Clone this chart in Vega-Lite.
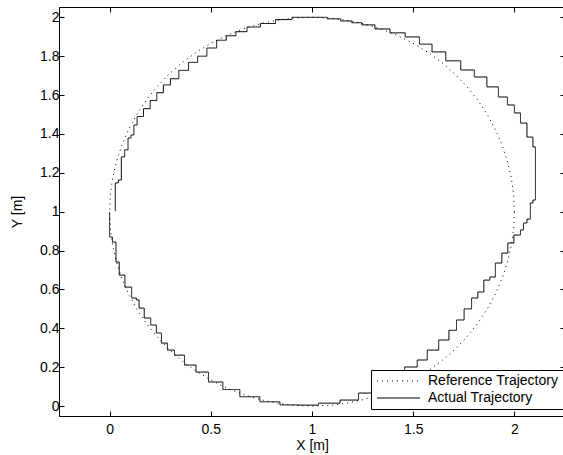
{
  "$schema": "https://vega.github.io/schema/vega-lite/v6.json",
  "width": 506,
  "height": 409,
  "autosize": "none",
  "padding": {"left": 59, "top": 7, "right": 0, "bottom": 39},
  "background": "white",
  "config": {
    "view": {"stroke": "black", "strokeWidth": 1},
    "font": "Liberation Sans",
    "axis": {
      "domainColor": "black", "domainWidth": 1, "tickColor": "black", "tickWidth": 1,
      "labelColor": "black", "titleColor": "black",
      "labelFont": "Liberation Sans", "titleFont": "Liberation Sans",
      "labelFontSize": 14, "titleFontSize": 14, "titleFontWeight": "normal",
      "tickSize": -5, "grid": false
    },
    "legend": {
      "orient": "none", "legendX": 312, "legendY": 363,
      "strokeColor": "black", "fillColor": "white", "padding": 4,
      "symbolType": "M-1,0H7.6", "symbolSize": 100, "symbolStrokeColor": "black",
      "symbolStrokeWidth": 1, "labelFont": "Liberation Sans", "labelFontSize": 14,
      "labelColor": "black", "labelOffset": 39, "rowPadding": 3
    }
  },
  "data": {"values": [
    {"s":"Reference Trajectory","i":0,"x":2,"y":1},
    {"s":"Reference Trajectory","i":1,"x":1.9962,"y":1.0872},
    {"s":"Reference Trajectory","i":2,"x":1.9848,"y":1.1736},
    {"s":"Reference Trajectory","i":3,"x":1.9659,"y":1.2588},
    {"s":"Reference Trajectory","i":4,"x":1.9397,"y":1.342},
    {"s":"Reference Trajectory","i":5,"x":1.9063,"y":1.4226},
    {"s":"Reference Trajectory","i":6,"x":1.866,"y":1.5},
    {"s":"Reference Trajectory","i":7,"x":1.8192,"y":1.5736},
    {"s":"Reference Trajectory","i":8,"x":1.766,"y":1.6428},
    {"s":"Reference Trajectory","i":9,"x":1.7071,"y":1.7071},
    {"s":"Reference Trajectory","i":10,"x":1.6428,"y":1.766},
    {"s":"Reference Trajectory","i":11,"x":1.5736,"y":1.8192},
    {"s":"Reference Trajectory","i":12,"x":1.5,"y":1.866},
    {"s":"Reference Trajectory","i":13,"x":1.4226,"y":1.9063},
    {"s":"Reference Trajectory","i":14,"x":1.342,"y":1.9397},
    {"s":"Reference Trajectory","i":15,"x":1.2588,"y":1.9659},
    {"s":"Reference Trajectory","i":16,"x":1.1736,"y":1.9848},
    {"s":"Reference Trajectory","i":17,"x":1.0872,"y":1.9962},
    {"s":"Reference Trajectory","i":18,"x":1,"y":2},
    {"s":"Reference Trajectory","i":19,"x":0.9128,"y":1.9962},
    {"s":"Reference Trajectory","i":20,"x":0.8264,"y":1.9848},
    {"s":"Reference Trajectory","i":21,"x":0.7412,"y":1.9659},
    {"s":"Reference Trajectory","i":22,"x":0.658,"y":1.9397},
    {"s":"Reference Trajectory","i":23,"x":0.5774,"y":1.9063},
    {"s":"Reference Trajectory","i":24,"x":0.5,"y":1.866},
    {"s":"Reference Trajectory","i":25,"x":0.4264,"y":1.8192},
    {"s":"Reference Trajectory","i":26,"x":0.3572,"y":1.766},
    {"s":"Reference Trajectory","i":27,"x":0.2929,"y":1.7071},
    {"s":"Reference Trajectory","i":28,"x":0.234,"y":1.6428},
    {"s":"Reference Trajectory","i":29,"x":0.1808,"y":1.5736},
    {"s":"Reference Trajectory","i":30,"x":0.134,"y":1.5},
    {"s":"Reference Trajectory","i":31,"x":0.0937,"y":1.4226},
    {"s":"Reference Trajectory","i":32,"x":0.0603,"y":1.342},
    {"s":"Reference Trajectory","i":33,"x":0.0341,"y":1.2588},
    {"s":"Reference Trajectory","i":34,"x":0.0152,"y":1.1736},
    {"s":"Reference Trajectory","i":35,"x":0.0038,"y":1.0872},
    {"s":"Reference Trajectory","i":36,"x":0,"y":1},
    {"s":"Reference Trajectory","i":37,"x":0.0038,"y":0.9128},
    {"s":"Reference Trajectory","i":38,"x":0.0152,"y":0.8264},
    {"s":"Reference Trajectory","i":39,"x":0.0341,"y":0.7412},
    {"s":"Reference Trajectory","i":40,"x":0.0603,"y":0.658},
    {"s":"Reference Trajectory","i":41,"x":0.0937,"y":0.5774},
    {"s":"Reference Trajectory","i":42,"x":0.134,"y":0.5},
    {"s":"Reference Trajectory","i":43,"x":0.1808,"y":0.4264},
    {"s":"Reference Trajectory","i":44,"x":0.234,"y":0.3572},
    {"s":"Reference Trajectory","i":45,"x":0.2929,"y":0.2929},
    {"s":"Reference Trajectory","i":46,"x":0.3572,"y":0.234},
    {"s":"Reference Trajectory","i":47,"x":0.4264,"y":0.1808},
    {"s":"Reference Trajectory","i":48,"x":0.5,"y":0.134},
    {"s":"Reference Trajectory","i":49,"x":0.5774,"y":0.0937},
    {"s":"Reference Trajectory","i":50,"x":0.658,"y":0.0603},
    {"s":"Reference Trajectory","i":51,"x":0.7412,"y":0.0341},
    {"s":"Reference Trajectory","i":52,"x":0.8264,"y":0.0152},
    {"s":"Reference Trajectory","i":53,"x":0.9128,"y":0.0038},
    {"s":"Reference Trajectory","i":54,"x":1,"y":0},
    {"s":"Reference Trajectory","i":55,"x":1.0872,"y":0.0038},
    {"s":"Reference Trajectory","i":56,"x":1.1736,"y":0.0152},
    {"s":"Reference Trajectory","i":57,"x":1.2588,"y":0.0341},
    {"s":"Reference Trajectory","i":58,"x":1.342,"y":0.0603},
    {"s":"Reference Trajectory","i":59,"x":1.4226,"y":0.0937},
    {"s":"Reference Trajectory","i":60,"x":1.5,"y":0.134},
    {"s":"Reference Trajectory","i":61,"x":1.5736,"y":0.1808},
    {"s":"Reference Trajectory","i":62,"x":1.6428,"y":0.234},
    {"s":"Reference Trajectory","i":63,"x":1.7071,"y":0.2929},
    {"s":"Reference Trajectory","i":64,"x":1.766,"y":0.3572},
    {"s":"Reference Trajectory","i":65,"x":1.8192,"y":0.4264},
    {"s":"Reference Trajectory","i":66,"x":1.866,"y":0.5},
    {"s":"Reference Trajectory","i":67,"x":1.9063,"y":0.5774},
    {"s":"Reference Trajectory","i":68,"x":1.9397,"y":0.658},
    {"s":"Reference Trajectory","i":69,"x":1.9659,"y":0.7412},
    {"s":"Reference Trajectory","i":70,"x":1.9848,"y":0.8264},
    {"s":"Reference Trajectory","i":71,"x":1.9962,"y":0.9128},
    {"s":"Reference Trajectory","i":72,"x":2,"y":1},
    {"s":"Actual Trajectory","i":0,"x":0.028,"y":1.004},
    {"s":"Actual Trajectory","i":1,"x":0.028,"y":1.148},
    {"s":"Actual Trajectory","i":2,"x":0.058,"y":1.163},
    {"s":"Actual Trajectory","i":3,"x":0.058,"y":1.282},
    {"s":"Actual Trajectory","i":4,"x":0.091,"y":1.318},
    {"s":"Actual Trajectory","i":5,"x":0.091,"y":1.379},
    {"s":"Actual Trajectory","i":6,"x":0.12,"y":1.395},
    {"s":"Actual Trajectory","i":7,"x":0.12,"y":1.446},
    {"s":"Actual Trajectory","i":8,"x":0.152,"y":1.49},
    {"s":"Actual Trajectory","i":9,"x":0.183,"y":1.53},
    {"s":"Actual Trajectory","i":10,"x":0.218,"y":1.572},
    {"s":"Actual Trajectory","i":11,"x":0.248,"y":1.612},
    {"s":"Actual Trajectory","i":12,"x":0.283,"y":1.652},
    {"s":"Actual Trajectory","i":13,"x":0.318,"y":1.684},
    {"s":"Actual Trajectory","i":14,"x":0.366,"y":1.727},
    {"s":"Actual Trajectory","i":15,"x":0.414,"y":1.768},
    {"s":"Actual Trajectory","i":16,"x":0.456,"y":1.8},
    {"s":"Actual Trajectory","i":17,"x":0.505,"y":1.842},
    {"s":"Actual Trajectory","i":18,"x":0.553,"y":1.882},
    {"s":"Actual Trajectory","i":19,"x":0.6,"y":1.905},
    {"s":"Actual Trajectory","i":20,"x":0.648,"y":1.926},
    {"s":"Actual Trajectory","i":21,"x":0.71,"y":1.95},
    {"s":"Actual Trajectory","i":22,"x":0.78,"y":1.968},
    {"s":"Actual Trajectory","i":23,"x":0.86,"y":1.988},
    {"s":"Actual Trajectory","i":24,"x":0.941,"y":2.0},
    {"s":"Actual Trajectory","i":25,"x":1.04,"y":2.0},
    {"s":"Actual Trajectory","i":26,"x":1.11,"y":1.992},
    {"s":"Actual Trajectory","i":27,"x":1.173,"y":1.981},
    {"s":"Actual Trajectory","i":28,"x":1.22,"y":1.972},
    {"s":"Actual Trajectory","i":29,"x":1.272,"y":1.961},
    {"s":"Actual Trajectory","i":30,"x":1.35,"y":1.94},
    {"s":"Actual Trajectory","i":31,"x":1.421,"y":1.92},
    {"s":"Actual Trajectory","i":32,"x":1.5,"y":1.899},
    {"s":"Actual Trajectory","i":33,"x":1.562,"y":1.862},
    {"s":"Actual Trajectory","i":34,"x":1.624,"y":1.822},
    {"s":"Actual Trajectory","i":35,"x":1.698,"y":1.776},
    {"s":"Actual Trajectory","i":36,"x":1.772,"y":1.729},
    {"s":"Actual Trajectory","i":37,"x":1.832,"y":1.693},
    {"s":"Actual Trajectory","i":38,"x":1.896,"y":1.642},
    {"s":"Actual Trajectory","i":39,"x":1.946,"y":1.59},
    {"s":"Actual Trajectory","i":40,"x":1.985,"y":1.549},
    {"s":"Actual Trajectory","i":41,"x":2.015,"y":1.508},
    {"s":"Actual Trajectory","i":42,"x":2.045,"y":1.456},
    {"s":"Actual Trajectory","i":43,"x":2.079,"y":1.384},
    {"s":"Actual Trajectory","i":44,"x":2.104,"y":1.333},
    {"s":"Actual Trajectory","i":45,"x":2.104,"y":1.06},
    {"s":"Actual Trajectory","i":46,"x":2.079,"y":1.045},
    {"s":"Actual Trajectory","i":47,"x":2.079,"y":0.962},
    {"s":"Actual Trajectory","i":48,"x":2.045,"y":0.942},
    {"s":"Actual Trajectory","i":49,"x":2.045,"y":0.906},
    {"s":"Actual Trajectory","i":50,"x":2.015,"y":0.88},
    {"s":"Actual Trajectory","i":51,"x":1.98,"y":0.839},
    {"s":"Actual Trajectory","i":52,"x":1.955,"y":0.787},
    {"s":"Actual Trajectory","i":53,"x":1.921,"y":0.736},
    {"s":"Actual Trajectory","i":54,"x":1.891,"y":0.664},
    {"s":"Actual Trajectory","i":55,"x":1.866,"y":0.648},
    {"s":"Actual Trajectory","i":56,"x":1.832,"y":0.587},
    {"s":"Actual Trajectory","i":57,"x":1.807,"y":0.556},
    {"s":"Actual Trajectory","i":58,"x":1.77,"y":0.5},
    {"s":"Actual Trajectory","i":59,"x":1.733,"y":0.443},
    {"s":"Actual Trajectory","i":60,"x":1.695,"y":0.39},
    {"s":"Actual Trajectory","i":61,"x":1.658,"y":0.34},
    {"s":"Actual Trajectory","i":62,"x":1.594,"y":0.288},
    {"s":"Actual Trajectory","i":63,"x":1.545,"y":0.237},
    {"s":"Actual Trajectory","i":64,"x":1.495,"y":0.201},
    {"s":"Actual Trajectory","i":65,"x":1.42,"y":0.15},
    {"s":"Actual Trajectory","i":66,"x":1.337,"y":0.103},
    {"s":"Actual Trajectory","i":67,"x":1.272,"y":0.067},
    {"s":"Actual Trajectory","i":68,"x":1.188,"y":0.031},
    {"s":"Actual Trajectory","i":69,"x":1.089,"y":0.015},
    {"s":"Actual Trajectory","i":70,"x":0.975,"y":0.005},
    {"s":"Actual Trajectory","i":71,"x":0.891,"y":0.006},
    {"s":"Actual Trajectory","i":72,"x":0.792,"y":0.022},
    {"s":"Actual Trajectory","i":73,"x":0.693,"y":0.048},
    {"s":"Actual Trajectory","i":74,"x":0.594,"y":0.085},
    {"s":"Actual Trajectory","i":75,"x":0.525,"y":0.124},
    {"s":"Actual Trajectory","i":76,"x":0.452,"y":0.175},
    {"s":"Actual Trajectory","i":77,"x":0.402,"y":0.211},
    {"s":"Actual Trajectory","i":78,"x":0.338,"y":0.262},
    {"s":"Actual Trajectory","i":79,"x":0.303,"y":0.288},
    {"s":"Actual Trajectory","i":80,"x":0.268,"y":0.324},
    {"s":"Actual Trajectory","i":81,"x":0.244,"y":0.376},
    {"s":"Actual Trajectory","i":82,"x":0.218,"y":0.417},
    {"s":"Actual Trajectory","i":83,"x":0.188,"y":0.453},
    {"s":"Actual Trajectory","i":84,"x":0.154,"y":0.504},
    {"s":"Actual Trajectory","i":85,"x":0.137,"y":0.546},
    {"s":"Actual Trajectory","i":86,"x":0.127,"y":0.556},
    {"s":"Actual Trajectory","i":87,"x":0.091,"y":0.612},
    {"s":"Actual Trajectory","i":88,"x":0.06,"y":0.674},
    {"s":"Actual Trajectory","i":89,"x":0.035,"y":0.741},
    {"s":"Actual Trajectory","i":90,"x":0.028,"y":0.844},
    {"s":"Actual Trajectory","i":91,"x":0.0,"y":0.87},
    {"s":"Actual Trajectory","i":92,"x":0.0,"y":0.998}
  ]},
  "layer": [
    {
      "transform": [{"filter": "datum.s === 'Reference Trajectory'"}],
      "mark": {"type": "line", "color": "black", "strokeWidth": 1},
      "encoding": {
        "x": {"field": "x", "type": "quantitative",
              "scale": {"domain": [-0.25, 2.25], "nice": false, "zero": false},
              "axis": {"title": "X [m]", "values": [0, 0.5, 1, 1.5, 2], "format": "~g", "labelPadding": 11, "titlePadding": 2}},
        "y": {"field": "y", "type": "quantitative",
              "scale": {"domain": [-0.051, 2.053], "nice": false, "zero": false},
              "axis": {"title": "Y [m]", "values": [0, 0.2, 0.4, 0.6, 0.8, 1, 1.2, 1.4, 1.6, 1.8, 2], "format": "~g", "labelPadding": 5, "titlePadding": 15}},
        "order": {"field": "i", "type": "quantitative"},
        "strokeDash": {"field": "s", "type": "nominal",
                       "scale": {"domain": ["Reference Trajectory", "Actual Trajectory"], "range": [[1, 4], [1, 0]]},
                       "legend": {"title": null}}
      }
    },
    {
      "transform": [{"filter": "datum.s === 'Actual Trajectory'"}],
      "mark": {"type": "line", "color": "black", "strokeWidth": 1, "interpolate": "step"},
      "encoding": {
        "x": {"field": "x", "type": "quantitative", "axis": null},
        "y": {"field": "y", "type": "quantitative", "axis": null},
        "order": {"field": "i", "type": "quantitative"},
        "strokeDash": {"field": "s", "type": "nominal"}
      }
    },
    {
      "mark": {"type": "point", "opacity": 0},
      "encoding": {
        "x": {"field": "x", "type": "quantitative",
              "axis": {"orient": "top", "title": null, "labels": false, "values": [0, 0.5, 1, 1.5, 2]}},
        "y": {"field": "y", "type": "quantitative",
              "axis": {"orient": "right", "title": null, "labels": false, "values": [0, 0.2, 0.4, 0.6, 0.8, 1, 1.2, 1.4, 1.6, 1.8, 2]}}
      }
    }
  ],
  "resolve": {"axis": {"x": "independent", "y": "independent"}}
}
